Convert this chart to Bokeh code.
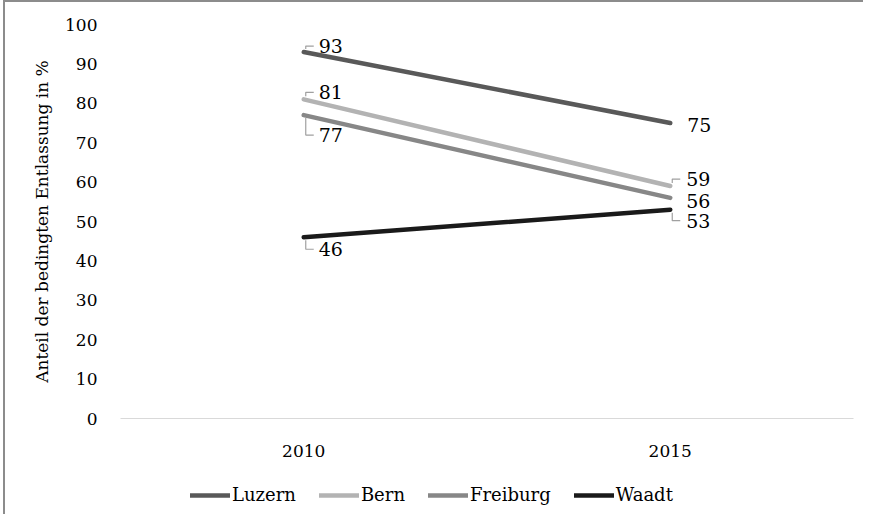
from bokeh.plotting import figure
from bokeh.layouts import column
from bokeh.models import Range1d, FixedTicker, Legend, LegendItem, ColumnDataSource
from bokeh.core.properties import value
from bokeh.embed import file_html
from bokeh.resources import INLINE

# ---- data ----
years = ["2010", "2015"]
series = ["Luzern", "Bern", "Freiburg", "Waadt"]
luzern = [93, 75]
bern = [81, 59]
freiburg = [77, 56]
waadt = [46, 53]
y_ticks = [0, 10, 20, 30, 40, 50, 60, 70, 80, 90, 100]
y_title = "Anteil der bedingten Entlassung in %"

# ---- style ----
colors = ["#595959", "#b3b3b3", "#878787", "#1a1a1a"]
FONT = "DejaVu Serif"
W = 858
L, R, T, B = 115, 10, 22, 56
fw, fh = W - L - R, 394
H = T + fh + B
xs = fw / 2.0      # px per x unit
ys = fh / 100.0    # px per y unit

# label placement per point: (dx px, dy px (screen, +down), leader?)
label_style = {
    "Luzern":   [(15, -6, True), (17, 2, False)],
    "Bern":     [(15, -7, True), (16, -7, True)],
    "Freiburg": [(15, 20, True), (16, 3, False)],
    "Waadt":    [(15, 12, True), (16, 11, True)],
}

p = figure(width=W, height=H, output_backend="svg", toolbar_location=None,
           x_range=Range1d(-0.5, 1.5), y_range=Range1d(0, 100),
           min_border_left=L, min_border_right=R, min_border_top=T, min_border_bottom=B)
p.outline_line_color = None
p.xgrid.grid_line_color = None
p.ygrid.grid_line_color = None

p.yaxis.ticker = FixedTicker(ticks=y_ticks)
p.yaxis.axis_line_color = None
p.yaxis.major_tick_line_color = None
p.yaxis.major_tick_out = 0
p.yaxis.major_tick_in = 0
p.yaxis.minor_tick_line_color = None
p.yaxis.major_label_standoff = 23
p.yaxis.axis_label = y_title
p.yaxis.axis_label_standoff = 10
p.yaxis.axis_label_text_font_style = "normal"

p.xaxis.ticker = FixedTicker(ticks=list(range(len(years))))
p.xaxis.major_label_overrides = {i: y for i, y in enumerate(years)}
p.xaxis.axis_line_color = "#d9d9d9"
p.xaxis.axis_line_width = 1
p.xaxis.major_tick_line_color = None
p.xaxis.major_tick_out = 0
p.xaxis.major_tick_in = 0
p.xaxis.minor_tick_line_color = None
p.xaxis.major_label_standoff = 26

for ax in (p.xaxis, p.yaxis):
    ax.major_label_text_font = FONT
    ax.major_label_text_font_size = "17px"
    ax.major_label_text_color = "#000000"
    ax.axis_label_text_font = FONT
    ax.axis_label_text_font_size = "17px"
    ax.axis_label_text_color = "#000000"

xpos = list(range(len(years)))
all_vals = [luzern, bern, freiburg, waadt]
for name, vals, col in zip(series, all_vals, colors):
    p.line(xpos, vals, line_color=col, line_width=4.5, line_cap="round")
    styles = label_style[name]
    src = ColumnDataSource(dict(x=xpos, y=vals, t=[str(v) for v in vals],
                                dx=[s[0] for s in styles], dy=[s[1] for s in styles]))
    p.text(x="x", y="y", text="t", x_offset="dx", y_offset="dy", source=src,
           text_font=value(FONT), text_font_size="19px", text_color="#000000",
           text_align="left", text_baseline="middle")
    for xi, v, (dx, dy, lead) in zip(xpos, vals, styles):
        if not lead:
            continue
        sgn = 1 if dy > 0 else -1
        lx = [xi + 2 / xs, xi + 2 / xs, xi + 10 / xs]
        ly = [v - sgn * 3 / ys, v - dy / ys, v - dy / ys]
        p.line(lx, ly, line_color="#a0a0a0", line_width=1.2)

# ---- legend strip (separate small figure so nothing is clipped) ----
lg = figure(width=W, height=40, output_backend="svg", toolbar_location=None,
            x_range=Range1d(0, 1), y_range=Range1d(0, 1),
            x_axis_type=None, y_axis_type=None,
            min_border_left=0, min_border_right=0, min_border_top=0, min_border_bottom=0)
lg.outline_line_color = None
lg.xgrid.grid_line_color = None
lg.ygrid.grid_line_color = None
items = []
for name, vals, col in zip(series, all_vals, colors):
    # same series, drawn out of this strip's visible range: only its legend swatch shows
    r = lg.line(xpos, vals, line_color=col, line_width=4.5, line_cap="round")
    items.append(LegendItem(label=name, renderers=[r]))
legend = Legend(items=items, orientation="horizontal", location=(70, 9),
                padding=0, margin=0, spacing=23, label_standoff=2,
                glyph_width=40, glyph_height=20,
                border_line_color=None, background_fill_alpha=0,
                label_text_font=FONT, label_text_font_size="18px", label_text_color="#000000")
lg.add_layout(legend, "center")

layout = column(p, lg, spacing=0,
                styles={"border-left": "2px solid #8c8c8c", "border-top": "2px solid #8c8c8c",
                        "margin-left": "3px"})

open("out.html", "w").write(file_html(layout, INLINE))
